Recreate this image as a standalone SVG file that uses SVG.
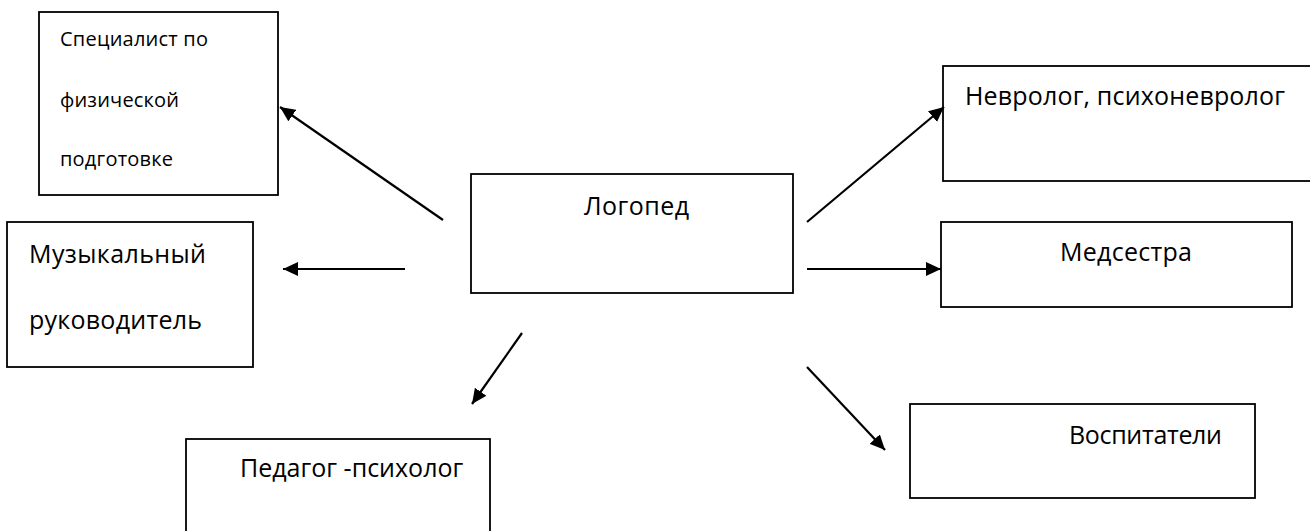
<svg xmlns="http://www.w3.org/2000/svg" width="1310" height="531" viewBox="0 0 1310 531">
<style>
.box{fill:#fff;stroke:#000;stroke-width:1.8}
.t{font-family:"Open Sans","Noto Sans",sans-serif;fill:#000}
.s{font-size:20px}
.l{font-size:25px}
.c{stroke:#000;stroke-width:2.2;fill:none}
</style>
<defs>
<marker id="ah" markerUnits="userSpaceOnUse" markerWidth="16" markerHeight="14" refX="15" refY="7" orient="auto">
<path d="M0,0 L15,7 L0,14 z" fill="#000"/>
</marker>
</defs>
<rect width="1310" height="531" fill="#fff"/>
<g id="node-fizo">
<rect class="box" x="39" y="12" width="239" height="183"/>
<text class="t s" x="60" y="46" textLength="148">Специалист по</text>
<text class="t s" x="60" y="107" textLength="119">физической</text>
<text class="t s" x="60" y="166" textLength="113">подготовке</text>
</g>
<g id="node-music">
<rect class="box" x="7" y="222" width="246" height="145"/>
<text class="t l" x="29" y="263" textLength="177">Музыкальный</text>
<text class="t l" x="29" y="329" textLength="173">руководитель</text>
</g>
<g id="node-logoped">
<rect class="box" x="471" y="174" width="322" height="119"/>
<text class="t l" x="584" y="215" textLength="105">Логопед</text>
</g>
<g id="node-psych">
<rect class="box" x="186" y="439" width="304" height="100"/>
<text class="t l" x="240" y="477">Педагог -психолог</text>
</g>
<g id="node-neuro">
<rect class="box" x="943" y="66" width="375" height="115"/>
<text class="t l" x="965" y="105" textLength="320">Невролог, психоневролог</text>
</g>
<g id="node-nurse">
<rect class="box" x="941" y="222" width="351" height="85"/>
<text class="t l" x="1060" y="261" textLength="132">Медсестра</text>
</g>
<g id="node-teachers">
<rect class="box" x="910" y="404" width="345" height="94"/>
<text class="t l" x="1069" y="444" textLength="153">Воспитатели</text>
</g>
<g id="connectors">
<line class="c" x1="443" y1="220" x2="280" y2="107" marker-end="url(#ah)"/>
<line class="c" x1="405" y1="269" x2="283" y2="269" marker-end="url(#ah)"/>
<line class="c" x1="522" y1="333" x2="472" y2="404" marker-end="url(#ah)"/>
<line class="c" x1="807" y1="222" x2="944" y2="107" marker-end="url(#ah)"/>
<line class="c" x1="807" y1="269" x2="941" y2="269" marker-end="url(#ah)"/>
<line class="c" x1="807" y1="367" x2="885" y2="450" marker-end="url(#ah)"/>
</g>
</svg>
